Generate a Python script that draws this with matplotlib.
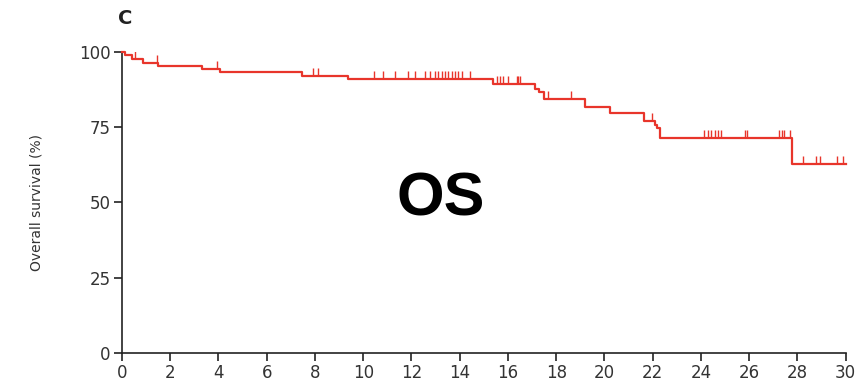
import numpy as np
import matplotlib
matplotlib.use('Agg')
import matplotlib.pyplot as plt

# KM step points: event time (months) and survival after it (%)
event_times = [0, 0.12, 0.40, 0.88, 1.51, 3.30, 4.06, 7.45, 9.38, 15.39, 17.14, 17.30,
               17.48, 19.19, 20.22, 21.63, 22.09, 22.19, 22.30, 27.79]
survival = [100, 99.1, 97.8, 96.4, 95.4, 94.4, 93.4, 92.1, 91.0, 89.4, 87.7, 86.6,
            84.4, 81.8, 79.6, 77.1, 75.7, 74.6, 71.5, 62.7]
end_time = 30.0

# censored observations
censor_times = [0.54, 1.44, 3.95, 7.9, 8.14, 10.44, 10.83, 11.31, 11.87, 12.14, 12.56,
                12.76, 12.97, 13.11, 13.25, 13.39, 13.52, 13.66, 13.80, 13.94, 14.08,
                14.42, 15.53, 15.67, 15.80, 16.01, 16.36, 16.42, 16.49, 17.67, 18.6,
                21.95, 24.12, 24.30, 24.40, 24.58, 24.71, 24.82, 25.82, 25.92, 27.24,
                27.34, 27.43, 27.68, 28.24, 28.76, 28.93, 29.64, 29.9]

x_ticks = list(range(0, 31, 2))
y_ticks = [0, 25, 50, 75, 100]

red = '#e8352b'
grey = '#333333'

fig = plt.figure(figsize=(8.56, 3.84), dpi=100)
ax = fig.add_axes([0.1425, 0.0807, 0.8455, 0.784])

t = np.array(event_times + [end_time])
s = np.array(survival + [survival[-1]])
ax.step(t, s, where='post', color=red, lw=1.6, clip_on=False, zorder=3)

# censor marks sit on the curve
idx = np.searchsorted(np.array(event_times), np.array(censor_times), side='right') - 1
cy = np.array(survival)[idx]
ax.vlines(censor_times, cy, cy + 2.6, color=red, lw=1.0, zorder=3)

ax.set_xlim(0, 30)
ax.set_ylim(0, 100)
ax.set_xticks(x_ticks)
ax.set_yticks(y_ticks)
ax.spines['top'].set_visible(False)
ax.spines['right'].set_visible(False)
for sp in ['left', 'bottom']:
    ax.spines[sp].set_linewidth(1.2)
    ax.spines[sp].set_color('#222222')
ax.tick_params(axis='both', length=6, width=1.2, color='#222222',
               labelsize=12, labelcolor=grey, pad=2)
for lab in ax.get_xticklabels() + ax.get_yticklabels():
    lab.set_fontfamily('Liberation Sans Narrow')

ax.set_ylabel('Overall survival (%)', fontsize=10, color=grey, labelpad=26)

fig.text(0.146, 0.952, 'C', fontsize=14, fontweight='bold', color='#222222',
         ha='center', va='center')
ax.text(13.2, 50.8, 'OS', fontsize=44, fontweight='bold', family='Liberation Sans',
        ha='center', va='center', color='black')

fig.savefig('out.png', dpi=100)
